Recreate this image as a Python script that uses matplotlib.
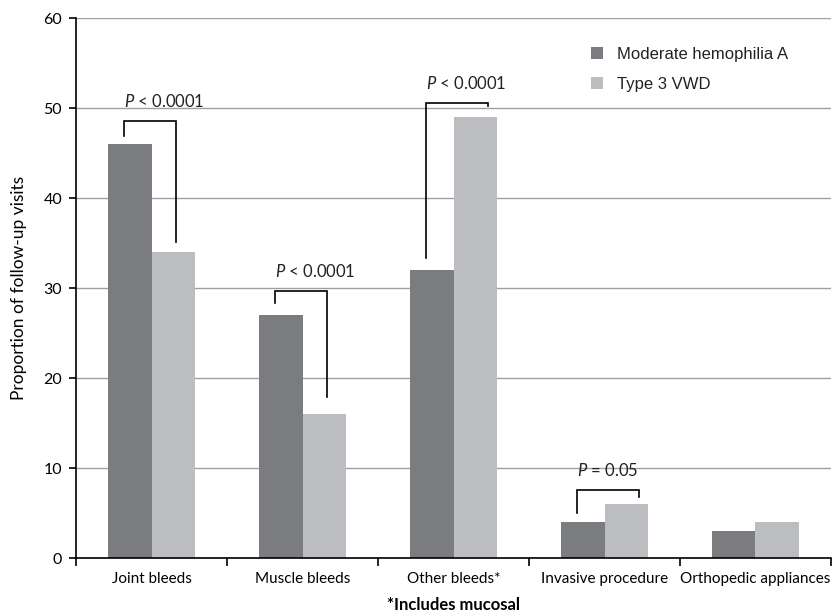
import matplotlib
matplotlib.use("Agg")
import matplotlib.pyplot as plt
import numpy as np

categories = ["Joint bleeds", "Muscle bleeds", "Other bleeds*", "Invasive procedure", "Orthopedic appliances"]
series_names = ["Moderate hemophilia A", "Type 3 VWD"]
hemophilia = [46, 27, 32, 4, 3]
vwd = [34, 16, 49, 6, 4]
# bracket annotations: (category index, left-leg bottom, top, right-leg bottom, label)
brackets = [
    (0, 46.9, 48.6, 35.1, "< 0.0001"),
    (1, 28.3, 29.7, 17.9, "< 0.0001"),
    (2, 33.3, 50.6, 50.2, "< 0.0001"),
    (3, 5.0, 7.6, 6.8, "= 0.05"),
]
yticks = [0, 10, 20, 30, 40, 50, 60]

plt.rcParams['font.family'] = ['Lato', 'DejaVu Sans']
plt.rcParams['mathtext.fontset'] = 'custom'
plt.rcParams['mathtext.it'] = 'Lato:italic'
plt.rcParams['mathtext.rm'] = 'Lato'

dark = "#7b7c80"
light = "#bcbdc1"

fig = plt.figure(figsize=(8.33, 6.16), dpi=100)
ax = fig.add_axes([76/833, (616-558)/616, (831-76)/833, 540/616])

x = np.arange(len(categories))
w = 0.29
ax.bar(x - w/2, hemophilia, w, color=dark, label=series_names[0], zorder=3)
ax.bar(x + w/2, vwd, w, color=light, label=series_names[1], zorder=3)

ax.set_xlim(-0.5, len(categories) - 0.5)
ax.set_ylim(0, 60)
ax.set_yticks(yticks)
ax.yaxis.grid(True, color="#a0a0a0", linewidth=1.0, zorder=0)
for s in ["top", "right"]:
    ax.spines[s].set_visible(False)
for s in ["left", "bottom"]:
    ax.spines[s].set_color("black")
    ax.spines[s].set_linewidth(1.2)
    ax.spines[s].set_zorder(4)

ax.set_xticks(np.arange(len(categories) + 1) - 0.5)
ax.set_xticklabels([])
ax.set_xticks(x, minor=True)
ax.set_xticklabels(categories, minor=True, fontsize=11)
ax.tick_params(axis="x", which="major", direction="out", length=6, width=1.2, color="black")
ax.tick_params(axis="x", which="minor", length=0, pad=10)
ax.tick_params(axis="y", direction="out", length=5, width=1.2, labelsize=11.5, pad=5)

ax.set_ylabel("Proportion of follow-up visits", fontsize=12.5, labelpad=12)
ax.set_xlabel("*Includes mucosal", fontsize=12, fontweight="bold", labelpad=8)

for (i, lb, top, rb, label) in brackets:
    xl = i - 0.18
    xr = i + (0.23 if i >= 2 else 0.16)
    ax.plot([xl, xl, xr, xr], [lb, top, top, rb], color="black", linewidth=1.2, zorder=5,
            solid_joinstyle="miter")
    ax.text(xl, top + 1.2, r"$\it{P}$ " + label, fontsize=12, ha="left", va="bottom",
            color="#222222", zorder=6)

leg = ax.legend(loc="upper left", bbox_to_anchor=(0.662, 0.975), frameon=False,
                handlelength=0.75, handleheight=0.75, handletextpad=0.8,
                labelspacing=0.9,
                prop={"family": ["Liberation Sans", "DejaVu Sans"], "size": 12})
for t in leg.get_texts():
    t.set_color("#222222")

fig.savefig("out.png", dpi=100)
